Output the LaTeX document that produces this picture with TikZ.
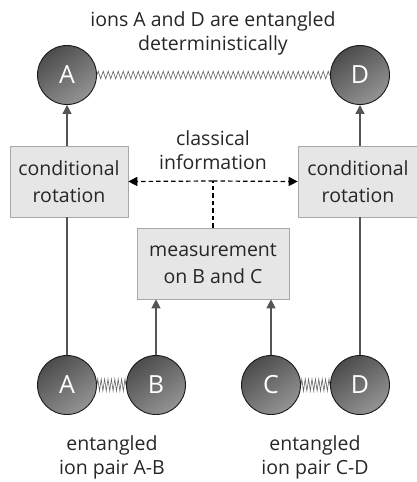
\documentclass[tikz,border=0pt]{standalone}
\usepackage{fontspec}
\setmainfont{Open Sans}
\usetikzlibrary{arrows.meta,decorations.pathmorphing}

\definecolor{linegray}{HTML}{555555}
\definecolor{boxfill}{HTML}{E6E6E6}
\definecolor{boxline}{HTML}{A8A8A8}
\definecolor{textgray}{HTML}{262626}

\tikzset{
  ion/.style={circle, draw=black!90, line width=0.9pt, minimum size=59pt,
    inner sep=0pt, top color=black!70, bottom color=black!42, shading angle=35,
    text=white, font=\fontsize{25}{25}\selectfont},
  gatebox/.style={draw=boxline, fill=boxfill, line width=0.6pt, align=center,
    text=textgray, font=\fontsize{19.5}{27}\selectfont, inner sep=0pt},
  caption/.style={align=center, text=textgray, font=\fontsize{19.5}{24}\selectfont},
  spring/.style={decorate, draw=black!60, line width=0.6pt,
    decoration={zigzag, segment length=5pt, amplitude=3.8pt}},
  feed/.style={draw=linegray, line width=1.1pt},
  up/.style={feed, -{Triangle[width=9pt,length=9pt]}},
  classic/.style={draw=black, line width=1.2pt, dashed,
    dash pattern=on 4.5pt off 3pt, -{Triangle[width=9pt,length=9pt]}}
}

\begin{document}
\begin{tikzpicture}[x=1pt,y=-1pt]
  \useasboundingbox (0,0) rectangle (417,482);
  \coordinate (InfoMid) at (213,181);

  % ions, top row: the deterministic pair
  \node[ion] (topA) at (67,75) {A};
  \node[ion] (topD) at (360,75) {D};
  % ions, bottom row: the two entangled pairs
  \node[ion] (botA) at (67,385) {A};
  \node[ion] (botB) at (156,385) {B};
  \node[ion] (botC) at (271,385) {C};
  \node[ion] (botD) at (360,385) {D};

  % boxes
  \node[gatebox, minimum width=118pt, minimum height=71pt] (rotL) at (69,181.5)
      {conditional\\rotation};
  \node[gatebox, minimum width=120pt, minimum height=71pt] (rotR) at (358,181.5)
      {conditional\\rotation};
  \node[gatebox, minimum width=152pt, minimum height=71pt] (meas) at (213,263.5)
      {measurement\\on B and C};

  % texts
  \node[caption] (title) at (213,33) {ions A and D are entangled\\deterministically};
  \node[caption] (info) at (213,150) {classical\\information};
  \node[caption] (pairAB) at (112,457) {entangled\\ion pair A-B};
  \node[caption] (pairCD) at (315,457) {entangled\\ion pair C-D};

  % springs
  \draw[spring] (topA.east) -- (topD.west);
  \draw[spring, decoration={amplitude=6pt, segment length=3.4pt}] (botA.east) -- (botB.west);
  \draw[spring, decoration={amplitude=6pt, segment length=3.4pt}] (botC.east) -- (botD.west);

  % quantum lines
  \draw[feed] (botA.north) -- (rotL.south -| botA.north);
  \draw[up] (rotL.north -| topA.south) -- (topA.south);
  \draw[feed] (botD.north) -- (rotR.south -| botD.north);
  \draw[up] (rotR.north -| topD.south) -- (topD.south);
  \draw[up] (botB.north) -- (meas.south -| botB.north);
  \draw[up] (botC.north) -- (meas.south -| botC.north);

  % classical information
  \draw[classic, -] (meas.north) -- (InfoMid);
  \draw[classic] (InfoMid) -- (rotL.east);
  \draw[classic] (InfoMid) -- (rotR.west);
\end{tikzpicture}
\end{document}
